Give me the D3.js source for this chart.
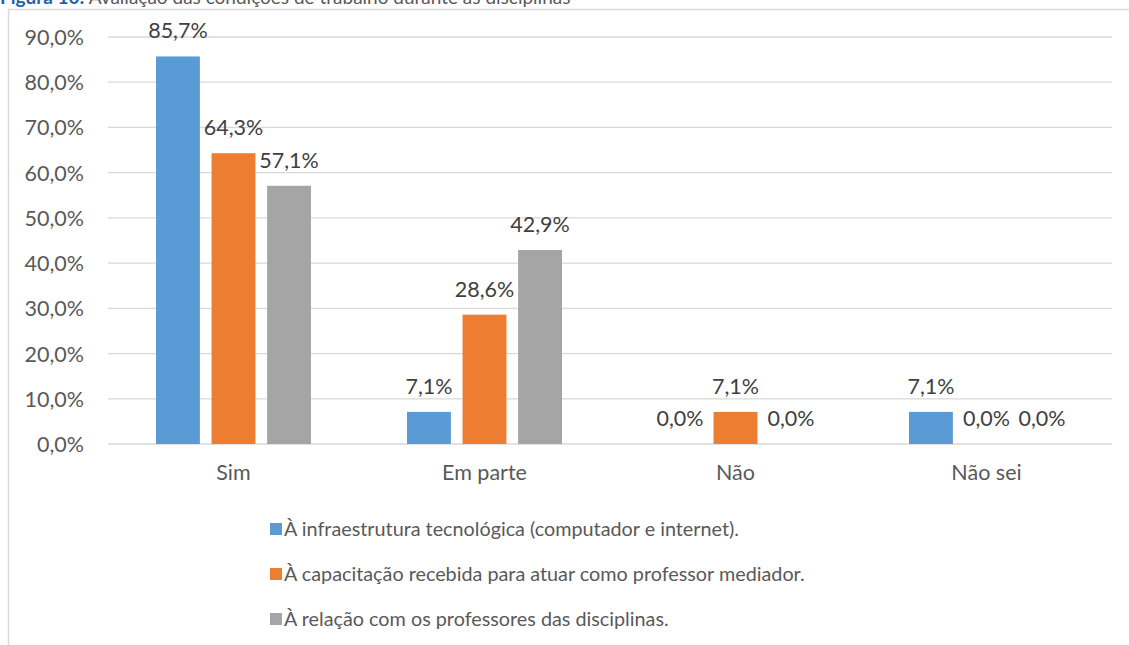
<!DOCTYPE html>
<html>
<head>
<meta charset="utf-8">
<script src="https://cdn.jsdelivr.net/npm/d3@7"></script>
<style>
  body { margin: 0; background: #fff; }
  text { font-family: Lato, "Open Sans", sans-serif; }
</style>
</head>
<body>
<script>
// categories, series and values
var categories = ["Sim", "Em parte", "Não", "Não sei"]
var seriesNames = [
	"À infraestrutura tecnológica (computador e internet).",
	"À capacitação recebida para atuar como professor mediador.",
	"À relação com os professores das disciplinas."
]
var infraestrutura = [85.7, 7.1, 0.0, 7.1]
var capacitacao = [64.3, 28.6, 7.1, 0.0]
var relacao = [57.1, 42.9, 0.0, 0.0]
var yTicks = [0, 10, 20, 30, 40, 50, 60, 70, 80, 90]
var colors = ["#5b9bd5", "#ed7d31", "#a5a5a5"]

var seriesValues = [infraestrutura, capacitacao, relacao]
var dataset = []
categories.forEach(function(c, i){
	seriesNames.forEach(function(s, j){
		dataset.push({cat: c, serie: s, value: seriesValues[j][i]})
	})
})

var w = 1129
var h = 645
var fmt = function(v){ return v.toFixed(1).replace(".", ",") + "%" }

var svg = d3.select("body")
	.append("svg")
	.attr("width", w)
	.attr("height", h)

// caption, cut at the top of the picture as in the original
var cap = svg.append("text")
	.attr("x", 0)
	.attr("y", 4)
	.style("font-size", "19px")
cap.append("tspan").attr("fill", "#2162a8").style("font-weight", "bold").text("Figura 10:")
cap.append("tspan").attr("fill", "#595959").text(" Avaliação das condições de trabalho durante as disciplinas")

// chart frame
svg.append("path")
	.attr("d", "M8.5," + h + "V9.5H" + w)
	.attr("fill", "none")
	.attr("stroke", "#d9d9d9")
	.attr("stroke-width", 1.5)

// Scales
var xScale = d3.scaleBand()
	.domain(categories)
	.range([108, 1112])

var x1 = d3.scaleBand()
	.domain(seriesNames)
	.range([48, 203])
	.paddingInner(0.21)

var yScale = d3.scaleLinear()
	.domain([0, 90])
	.range([444, 37])

var colorScale = d3.scaleOrdinal().domain(seriesNames).range(colors)

// gridlines
svg.append("g")
	.selectAll("line")
	.data(yTicks)
	.enter()
	.append("line")
	.attr("x1", 108)
	.attr("x2", 1112)
	.attr("y1", (d) => yScale(d))
	.attr("y2", (d) => yScale(d))
	.attr("stroke", "#d9d9d9")
	.attr("stroke-width", 1.3)

// Axes
var yAxis = d3.axisLeft(yScale).tickValues(yTicks).tickSize(0).tickPadding(0).tickFormat(fmt)
var xAxis = d3.axisBottom(xScale).tickSize(0).tickPadding(0)

svg.append("g")
	.attr("class", "y axis")
	.attr("transform", "translate(84,0)")
	.call(yAxis)
	.call((g) => g.select(".domain").remove())
	.selectAll("text")
	.attr("fill", "#595959")
	.style("font-size", "21.5px")
	.attr("dy", "0.35em")

svg.append("g")
	.attr("class", "x axis")
	.attr("transform", "translate(0,465)")
	.call(xAxis)
	.call((g) => g.select(".domain").remove())
	.selectAll("text")
	.attr("fill", "#595959")
	.style("font-size", "21.5px")

// bars
svg.append("g")
	.selectAll("rect")
	.data(dataset)
	.enter()
	.append("rect")
	.attr("x", (d) => xScale(d.cat) + x1(d.serie))
	.attr("y", (d) => yScale(d.value))
	.attr("width", x1.bandwidth())
	.attr("height", (d) => yScale(0) - yScale(d.value))
	.attr("fill", (d) => colorScale(d.serie))

// value labels
svg.append("g")
	.selectAll("text")
	.data(dataset)
	.enter()
	.append("text")
	.attr("x", (d) => xScale(d.cat) + x1(d.serie) + x1.bandwidth() / 2)
	.attr("y", (d) => yScale(d.value) - 18)
	.attr("text-anchor", "middle")
	.attr("fill", "#404040")
	.style("font-size", "21.5px")
	.text((d) => fmt(d.value))

// legend
var legend = svg.append("g")

legend.selectAll("rect")
	.data(seriesNames)
	.enter()
	.append("rect")
	.attr("x", 270)
	.attr("y", function(d,i){ return 523 + i*45 })
	.attr("width", 12)
	.attr("height", 12)
	.attr("fill", (d) => colorScale(d))

legend.selectAll("text")
	.data(seriesNames)
	.enter()
	.append("text")
	.attr("x", 284)
	.attr("y", function(d,i){ return 536 + i*45 })
	.attr("fill", "#595959")
	.style("font-size", "19.8px")
	.text((d) => d)
</script>
</body>
</html>
